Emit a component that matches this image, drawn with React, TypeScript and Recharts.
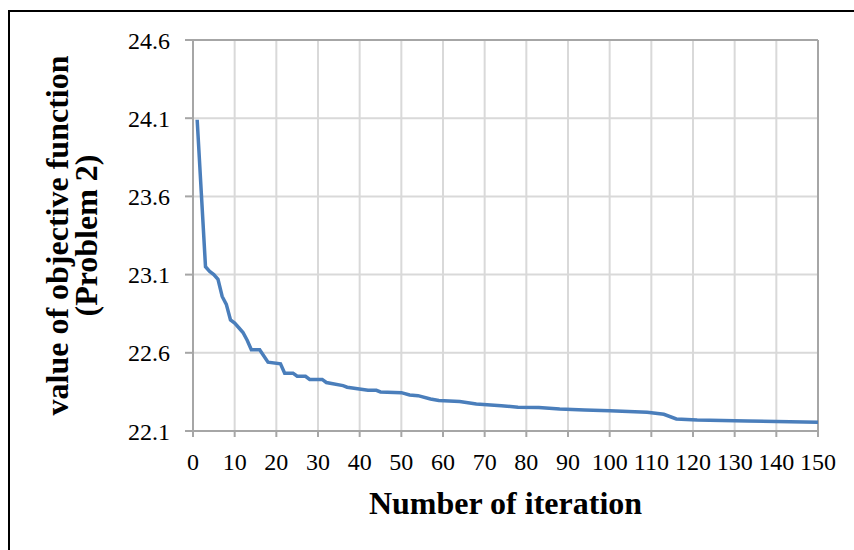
import { CartesianGrid, Label, Line, LineChart, ReferenceLine, XAxis, YAxis } from 'recharts';

const iterations = [
  1, 2, 3, 4, 5, 6, 7, 8, 9, 10, 11, 12, 13, 14, 16, 18, 21, 22, 24, 25, 27, 28, 31, 32, 36, 37, 42, 44, 45, 50,
  52, 54, 57, 59, 64, 68, 74, 78, 83, 88, 94, 100, 109, 113, 116, 121, 133, 150,
];
const objectiveValues = [
  24.09, 23.62, 23.15, 23.12, 23.1, 23.07, 22.96, 22.91, 22.81, 22.79, 22.76, 22.73, 22.68, 22.62, 22.62, 22.54,
  22.53, 22.47, 22.47, 22.45, 22.45, 22.43, 22.43, 22.41, 22.39, 22.38, 22.36, 22.36, 22.35, 22.345, 22.33, 22.326,
  22.305, 22.295, 22.288, 22.273, 22.262, 22.252, 22.25, 22.24, 22.234, 22.23, 22.22, 22.207, 22.177, 22.17, 22.164,
  22.156,
];
const xTicks = [0, 10, 20, 30, 40, 50, 60, 70, 80, 90, 100, 110, 120, 130, 140, 150];
const yTicks = [22.1, 22.6, 23.1, 23.6, 24.1, 24.6];

const data = iterations.map((it, i) => ({ iteration: it, value: objectiveValues[i] }));

const serif = '"Liberation Serif", "Times New Roman", serif';
const gridColor = '#d9d9d9';
const axisColor = '#a6a6a6';

// plain text ticks so the serif font is really used
const XTick = ({ x, y, payload }: any) => (
  <text x={x} y={y} dy="0.71em" textAnchor="middle" fontFamily={serif} fontSize={24} fill="#000">
    {payload.value}
  </text>
);

const YTick = ({ x, y, payload }: any) => (
  <text x={x} y={y} dy="0.355em" textAnchor="end" fontFamily={serif} fontSize={24} fill="#000">
    {Number(payload.value).toFixed(1)}
  </text>
);

export default function App() {
  return (
    <div
      style={{
        position: 'absolute',
        left: 0,
        top: 0,
        width: 854,
        height: 550,
        overflow: 'hidden',
        background: '#fff',
        fontFamily: serif,
      }}
    >
      <div
        style={{
          position: 'absolute',
          left: 8,
          top: 10,
          width: 900,
          height: 600,
          border: '2px solid #000',
        }}
      />
      <div style={{ position: 'absolute', left: 0, top: 0 }}>
        <LineChart
          width={854}
          height={550}
          data={data}
          margin={{ top: 40, right: 36, bottom: 0, left: 10 }}
          style={{ fontFamily: serif }}
        >
          <CartesianGrid stroke={gridColor} strokeWidth={2} horizontalValues={yTicks} verticalValues={xTicks} />
          <XAxis
            dataKey="iteration"
            type="number"
            domain={[0, 150]}
            ticks={xTicks}
            interval={0}
            height={119}
            stroke={axisColor}
            strokeWidth={2}
            tickSize={6}
            tickMargin={16}
            tick={<XTick />}
          >
            <Label
              content={({ viewBox }: any) => (
                <text
                  x={viewBox.x + viewBox.width / 2}
                  y={514}
                  textAnchor="middle"
                  fontFamily={serif}
                  fontWeight="bold"
                  fontSize={32}
                  fill="#000"
                >
                  Number of iteration
                </text>
              )}
            />
          </XAxis>
          <YAxis
            type="number"
            domain={[22.1, 24.6]}
            ticks={yTicks}
            interval={0}
            width={183}
            stroke={axisColor}
            strokeWidth={2}
            tickSize={8}
            tickMargin={15}
            tick={<YTick />}
          >
            <Label
              content={({ viewBox }: any) => {
                const cy = viewBox.y + viewBox.height / 2;
                return (
                  <g fontFamily={serif} fontWeight="bold" fontSize={32} fill="#000">
                    <text x={68} y={cy} textAnchor="middle" transform={`rotate(-90, 68, ${cy})`}>
                      value of objective function
                    </text>
                    <text x={97} y={cy} textAnchor="middle" transform={`rotate(-90, 97, ${cy})`}>
                      (Problem 2)
                    </text>
                  </g>
                );
              }}
            />
          </YAxis>
          <ReferenceLine y={24.6} stroke={axisColor} strokeWidth={2} />
          <ReferenceLine x={150} stroke={axisColor} strokeWidth={2} />
          <Line
            type="linear"
            dataKey="value"
            stroke="#4a7ebb"
            strokeWidth={3.5}
            dot={false}
            isAnimationActive={false}
          />
        </LineChart>
      </div>
    </div>
  );
}
